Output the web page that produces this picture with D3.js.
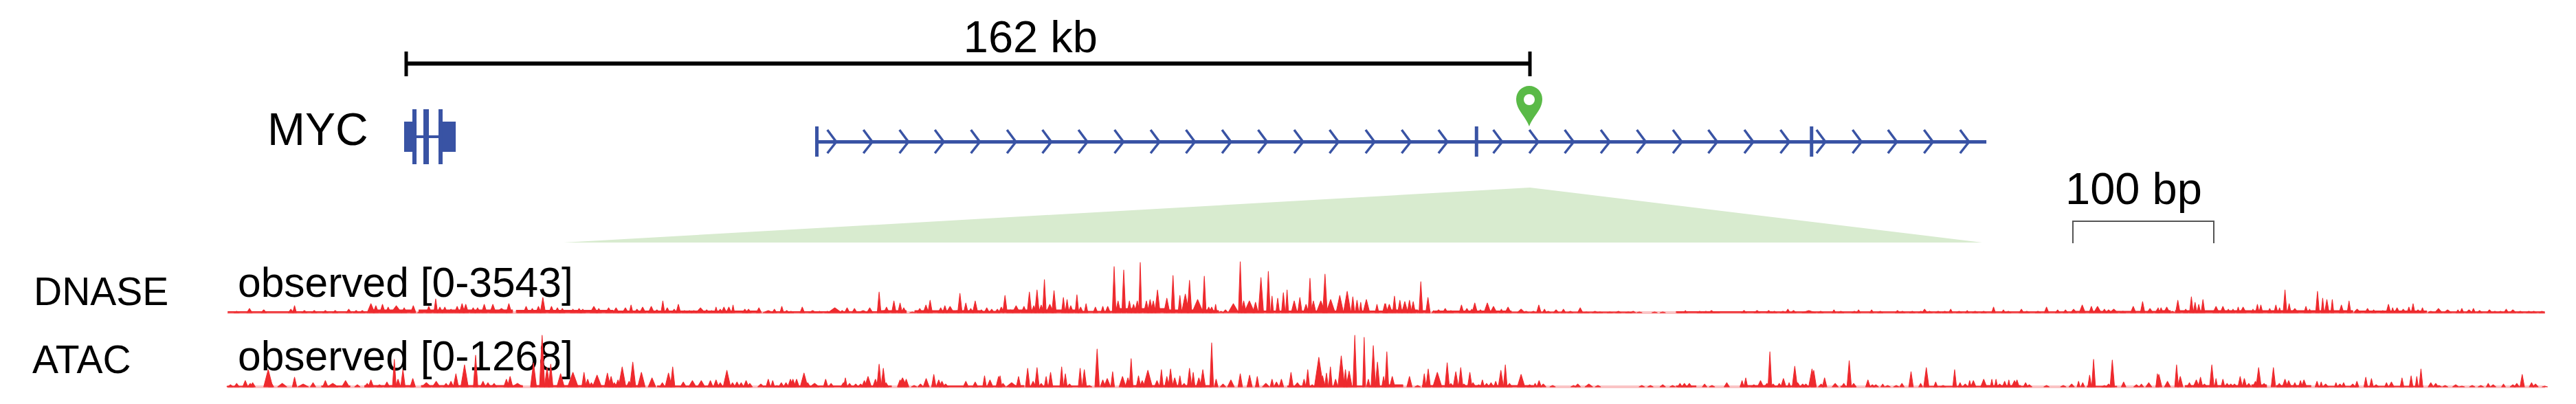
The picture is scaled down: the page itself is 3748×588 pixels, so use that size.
<!DOCTYPE html>
<html>
<head>
<meta charset="utf-8">
<script src="https://cdn.jsdelivr.net/npm/d3@7"></script>
<style>
  html, body { margin: 0; padding: 0; background: #fff; }
  text { font-family: "Liberation Sans", Arial, sans-serif; fill: #000; }
</style>
</head>
<body>
<div id="figure"></div>
<script type="text/javascript">
// gene model, positions in kb from the MYC start
var rulerKb = [0, 162];
var rulerLabel = "162 kb";
var geneName = "MYC";
var mycLine = [0.9, 4.7];
var mycThick = [[-0.3, 1.49], [4.66, 7.14]];
var mycTall = [[0.89, 1.49], [2.48, 3.27], [4.66, 5.25]];
var targetLine = [59.2, 227.8];
var targetTicks = [59.2, 154.3, 202.6];
var chevrons = [62.0, 67.2, 72.4, 77.5, 82.7, 87.9, 93.0, 98.2, 103.4, 108.6, 113.7, 118.9, 124.1, 129.3, 134.4, 139.6, 144.8, 150.1,
  158.0, 163.2, 168.3, 173.5, 178.7, 183.9, 189.0, 194.2, 199.4,
  204.6, 209.8, 214.9, 220.1, 225.3];
var zoomWedge = [[22.7, 0], [162, 1], [227.2, 0]];
var scaleBarBp = [0, 100];
var scaleBarLabel = "100 bp";

var trackNames = ["DNASE", "ATAC"];
var trackRanges = ["observed [0-3543]", "observed [0-1268]"];

// tracks were read in six windows of 1568 units; each peak is [pos, height, halfwidth]
var dnase1 = [[40,2],[92,6],[150,4],[260,5],[275,10,5],[315,3],[355,3],[400,3],[440,3],[495,5],[525,3],[550,3],[585,13,10],[605,10],[632,12],[655,8],[688,10,14],[720,7],[757,10],[785,2],[820,9],[848,20,5],[865,8],[885,8],[910,5],[935,9],[955,13],[970,12],[1000,7],[1018,7],[1045,12],[1080,12,8],[1115,6,15],[1145,13],[1190,3],[1215,9],[1240,6],[1265,9],[1283,22],[1318,9],[1342,7],[1362,6],[1405,5],[1430,6],[1445,5],[1490,9,10],[1510,6],[1550,7,8]];
var dnase2 = [[12,7,8],[30,2],[50,7,8],[73,11,5],[97,5,8],[120,8,8],[155,9,8],[178,4,8],[202,17,5],[220,7],[248,5],[265,12,6],[290,3],[310,3],[328,3],[355,7,12],[380,4],[400,3],[418,8,4],[435,5],[450,8],[470,8],[487,11,4],[535,5],[550,5],[592,7,7],[630,3,14],[655,5,6],[685,9,5],[705,3],[722,2],[768,8,6],[810,3,10],[838,2],[870,2],[900,7,18],[930,3],[950,7,7],[980,6],[1015,3,14],[1042,7,8],[1080,30,5],[1100,3],[1110,8],[1140,17,6],[1165,14,6],[1180,7],[1215,1],[1245,6],[1270,11],[1287,18,6],[1330,7],[1347,10,6],[1368,9,10],[1395,3],[1408,28,6],[1432,14,6],[1452,6],[1470,17,7],[1495,4],[1517,7,7],[1537,5],[1560,5]];
var dnase3 = [[8,8],[23,25,6],[45,4],[68,10,10],[100,9],[122,30,6],[140,10],[153,33,6],[170,11],[183,48,5],[205,12,10],[222,32,6],[260,22,5],[275,19,5],[290,10],[315,26,5],[330,8],[352,13,5],[390,8,6],[420,9,5],[440,9],[466,67,5],[482,17],[505,62,5],[528,17,6],[545,12],[572,73,4],[560,17],[597,17],[612,19],[625,17],[642,33,7],[680,21,8],[705,54,5],[733,25,5],[755,27,10],[772,47,6],[805,19,15],[832,53,5],[850,8],[862,8],[878,12,4],[900,2],[918,4],[950,13,14],[978,74,5],[992,17],[1015,17,14],[1040,15,7],[1062,51,7],[1092,60,5],[1107,24,4],[1130,21,5],[1153,29,5],[1168,33,4],[1197,17,8],[1220,22,6],[1245,12],[1261,50,5],[1275,17],[1305,17,12],[1322,56,6],[1345,19,12],[1382,25,10],[1412,31,10],[1435,23,5],[1452,18,5],[1467,15,4],[1490,19,9],[1533,12,5],[1565,13,6]];
var dnase4 = [[0,13,5],[15,12,8],[36,24,5],[58,18,6],[78,16,8],[97,18,6],[112,16,6],[143,45,5],[172,22,6],[195,3,5],[215,4,8],[242,6,7],[265,3],[308,11,6],[330,6,7],[362,14,7],[350,5],[385,4],[413,14,9],[438,9,9],[470,5,5],[497,8,8],[550,5,10],[570,2],[600,2],[622,11,6],[645,5,5],[660,2],[692,4,7],[722,5,6],[750,2],[790,7,7],[815,1],[850,2],[870,1],[910,1],[945,2],[985,1],[1005,2],[1030,1],[1092,1],[1125,1],[1195,1],[1217,3,5],[1275,2],[1300,2],[1323,3],[1345,1],[1455,3,7],[1508,3,8],[1555,3,6]];
var dnase5 = [[10,2],[45,2],[65,5,6],[88,3],[150,3,18],[198,2],[252,4,5],[280,2,8],[335,2],[352,4,5],[405,4,5],[440,2],[510,3,6],[530,2],[570,2],[620,5,7],[605,2],[640,2],[675,2],[702,2],[726,5,5],[760,2],[793,3,5],[825,2],[860,2],[900,8,5],[940,4,5],[960,2],[1013,5,6],[1035,2],[1080,2],[1115,8,6],[1160,4,6],[1192,4,6],[1225,5,8],[1260,11,8],[1297,9,6],[1322,9,10],[1350,5,6],[1367,4],[1388,5,10],[1425,2],[1467,9,7],[1505,16,6],[1535,6,8],[1565,5,6]];
var dnase6 = [[0,7,4],[12,7,5],[35,8,8],[58,2],[80,18,6],[112,5,6],[135,23,5],[150,15,5],[165,12,5],[182,19,5],[235,9,8],[263,9,7],[285,5,5],[304,5,5],[325,8,4],[345,8,8],[385,5,4],[403,12,5],[417,11,5],[453,6,5],[478,11,5],[493,7,4],[515,33,5],[532,13,5],[555,6,9],[600,9,5],[615,5,4],[647,31,5],[668,21,4],[685,19,6],[707,19,4],[744,11,6],[775,17,5],[808,5,9],[850,6,7],[875,4,6],[912,3,6],[935,12,6],[952,7,4],[970,7,7],[995,5,8],[1018,8,5],[1035,13,5],[1055,4],[1073,7,5],[1107,2,8],[1138,6,10],[1175,4,10],[1217,4,5],[1233,6,5],[1262,4,8],[1280,6,5],[1305,3],[1345,4,7],[1367,2],[1390,2],[1413,5,6],[1440,4,8],[1470,2],[1505,2],[1525,2],[1558,2]];

var atac1 = [[15,3],[40,5],[75,9],[105,6],[95,5],[168,25,12],[180,6],[225,5,12],[275,14,6],[310,4,14],[350,6],[400,9],[430,5,14],[482,9,10],[530,3],[585,10],[570,5],[620,3],[650,7],[680,40,5],[715,25,6],[695,11],[755,12],[810,6,12],[850,8,10],[890,5],[910,8],[930,19],[965,32,10],[1010,46,6],[1040,8],[1060,6],[1085,5],[1135,11],[1150,15],[1180,5,14],[1245,35,8],[1280,75,7],[1300,28],[1315,33,6],[1355,19,10],[1405,21,14],[1450,21,6],[1465,11],[1503,17,12],[1480,6],[1545,20,8],[1560,15]];
var atac2 = [[5,6],[20,10],[37,29,10],[80,36,8],[65,8],[115,21,10],[158,13,10],[200,6],[225,20,9],[242,29,6],[285,7,8],[322,9,10],[358,9,10],[395,9,7],[418,10],[435,6],[462,24,10],[485,6],[503,7],[520,6],[540,9],[555,5],[600,4,8],[630,11,6],[648,9,5],[665,2],[683,6],[702,6],[720,11],[730,11],[745,11],[775,20,10],[790,6],[818,5,12],[863,11,6],[885,5],[935,6],[943,13,5],[960,5],[985,4],[1005,4],[1020,9],[1035,15,9],[1065,11],[1080,33,6],[1097,27,6],[1108,6],[1165,10],[1175,13,12],[1190,11],[1222,2],[1248,4],[1271,12,8],[1302,18,6],[1322,10],[1335,8],[1350,4],[1432,8],[1470,7],[1508,16,5],[1530,10,8],[1565,15]];
var atac3 = [[3,16,5],[15,5],[50,6,14],[78,15,6],[115,27,6],[137,8],[153,28,6],[170,5],[190,15,5],[208,21,6],[253,29,5],[268,19,5],[285,4],[328,27,5],[345,25,6],[365,2],[397,55,6],[420,10],[438,12,9],[460,22,5],[500,15,9],[522,13],[535,41,5],[565,16,6],[580,9],[603,24,12],[640,9],[658,25,5],[680,15,6],[695,26,6],[712,13],[733,16,5],[750,5],[772,27,6],[787,21,5],[810,13],[826,25,7],[862,64,5],[880,11,5],[908,4,7],[940,10,9],[978,19,6],[1016,17,7],[1047,15,5],[1082,5,9],[1107,11,5],[1125,7,7],[1145,11,6],[1184,21,6],[1210,6,9],[1237,11,5],[1252,25,5],[1270,3],[1297,43,12],[1312,16],[1328,20,5],[1344,29,5],[1365,11,6],[1388,45,9],[1405,25,5],[1420,23,8],[1443,75,5],[1481,72,4],[1498,11,5],[1518,60,6],[1535,36,6],[1560,15,5]];
var atac4 = [[5,51,5],[27,15,7],[97,15,7],[130,2],[157,19,5],[173,26,6],[210,21,12],[250,35,6],[265,5],[285,22,7],[305,28,6],[318,4],[342,21,6],[355,6,7],[378,3],[393,10,5],[410,5],[428,6,7],[447,8,5],[468,24,7],[486,32,5],[503,5],[550,18,10],[585,3],[607,5,5],[623,9,6],[640,4],[678,2],[763,2],[780,4],[825,4,10],[862,2],[1040,2],[1075,2],[1125,3],[1165,2],[1195,5,6],[1213,5],[1233,5],[1295,4,6],[1325,2],[1385,6,7],[1447,9,5],[1462,13,5],[1495,3],[1522,9,8],[1548,5],[1560,51,5]];
var atac5 = [[5,4],[30,5,6],[47,12,7],[70,6,4],[93,30,7],[105,6],[125,4],[138,4],[163,26,9],[170,24],[200,4],[214,13,6],[257,5,8],[292,5,6],[314,38,6],[332,5],[390,10,6],[408,3],[422,3],[450,4,5],[470,2],[505,2],[528,5,6],[565,22,6],[604,5,5],[627,28,7],[665,7,5],[695,2],[742,25,5],[764,6,5],[785,4],[803,9,4],[818,9,7],[860,11,8],[893,11,4],[910,11,4],[925,4],[945,8,6],[962,10,4],[985,9,8],[995,10,6],[1030,6,6],[1045,3],[1115,2],[1183,2],[1217,4,7],[1245,8,4],[1262,6,5],[1290,17,5],[1306,40,5],[1350,2],[1367,4],[1382,39,6],[1428,7,6],[1480,3],[1500,4,6],[1530,6,8],[1565,19,4]];
var atac6 = [[3,18,8],[38,8,8],[75,32,5],[90,15,7],[127,6,6],[155,10,8],[172,14,6],[188,4],[218,32,6],[235,12,4],[263,11,5],[280,5],[295,4],[310,4],[333,15,6],[350,12,6],[368,5],[408,28,7],[395,8],[430,5],[468,28,6],[492,5],[515,11,7],[530,9],[555,6,5],[578,9,5],[592,10,7],[645,8,5],[662,7,4],[680,4],[722,6,4],[738,4],[753,6,5],[790,4],[807,8,5],[843,14,5],[866,12,5],[885,3],[927,6,5],[947,7,7],[990,13,5],[1027,16,5],[1050,15,4],[1067,26,5],[1107,6,7],[1127,5],[1140,2],[1165,2],[1208,3,8],[1233,1],[1275,2],[1310,2],[1340,5,5],[1360,3],[1402,4,5],[1440,3],[1456,5],[1478,18,6],[1516,6,6],[1532,4],[1570,1]];

// low background stretches: [window, start, end, height]
var dnaseFloor = [[0,5,580,1.5],[0,580,762,4],[0,780,1160,4],[0,1175,1568,3.5],[1,0,595,2.5],[1,620,1075,1.5],[1,1075,1190,3],[1,1225,1490,3],[1,1490,1568,2],[2,30,320,4],[2,320,465,2],[2,465,680,6],[2,680,860,4],[2,860,890,3],[2,970,1568,2.5],[3,0,130,4],[3,130,180,3],[3,200,510,2.5],[3,510,1000,1],[3,1180,1568,1.5],[4,0,1220,1.2],[4,1220,1568,2],[5,0,50,3],[5,70,790,3],[5,800,1090,2.5],[5,1100,1568,1.2]];
var atacFloor = [[0,1,110,1],[0,385,500,1.5],[0,560,760,2],[0,790,1200,2],[0,1235,1568,2],[1,0,110,2],[1,180,560,1.5],[1,610,1130,1.5],[1,1345,1568,1.5],[2,40,100,2],[2,110,360,1.5],[2,500,860,2],[2,1170,1480,1.5],[2,1500,1568,1.5],[3,0,70,3],[3,150,600,2],[3,1180,1260,1.5],[3,1440,1568,2],[4,0,150,1.5],[4,280,340,1],[4,620,1030,1],[4,850,1010,2],[4,1280,1400,1],[5,110,370,2],[5,380,440,3],[5,480,620,2],[5,650,810,1],[5,840,1075,1]];

var dnaseWindows = [dnase1, dnase2, dnase3, dnase4, dnase5, dnase6];
var atacWindows = [atac1, atac2, atac3, atac4, atac5, atac6];

var blue = "#3953a4", red = "#ee2a2e", pink = "#fac4c5", green = "#5aba47", paleGreen = "#d8ebcf";

var svgSel = d3.select("#figure").append("svg")
  .attr("width", 3748)
  .attr("height", 588)
  .style("display", "block");

var xKb = d3.scaleLinear().domain(rulerKb).range([591, 2226]);
var xBar = d3.scaleLinear().domain(scaleBarBp).range([3016, 3221]);
var winUnits = 1568;
var xTrack = d3.scaleLinear().domain([0, winUnits * 6]).range([330, 3702]);

function addLabel(txt, x, y, size, anchor) {
  return svgSel.append("text")
    .attr("x", x).attr("y", y)
    .attr("font-size", size)
    .attr("text-anchor", anchor || "start")
    .text(txt);
}

function vLine(x, y1, y2, color, w) {
  svgSel.append("line")
    .attr("x1", x).attr("x2", x)
    .attr("y1", y1).attr("y2", y2)
    .attr("stroke", color).attr("stroke-width", w);
}

function hLine(x1, x2, y, color, w) {
  svgSel.append("line")
    .attr("x1", x1).attr("x2", x2)
    .attr("y1", y).attr("y2", y)
    .attr("stroke", color).attr("stroke-width", w);
}

// ruler
hLine(xKb(rulerKb[0]), xKb(rulerKb[1]), 92.5, "#000", 6);
rulerKb.forEach(function(d) { vLine(xKb(d), 75, 111, "#000", 5); });
addLabel(rulerLabel, xKb(90), 76, 65, "middle");

// MYC gene
addLabel(geneName, 389, 211, 66);
hLine(xKb(mycLine[0]), xKb(mycLine[1]), 199, blue, 4);
svgSel.selectAll("rect.thick")
  .data(mycThick)
  .enter()
  .append("rect")
  .attr("class", "thick")
  .attr("x", function(d) { return xKb(d[0]); })
  .attr("width", function(d) { return xKb(d[1]) - xKb(d[0]); })
  .attr("y", 177).attr("height", 44)
  .attr("fill", blue);
svgSel.selectAll("rect.tall")
  .data(mycTall)
  .enter()
  .append("rect")
  .attr("class", "tall")
  .attr("x", function(d) { return xKb(d[0]); })
  .attr("width", function(d) { return xKb(d[1]) - xKb(d[0]); })
  .attr("y", 159).attr("height", 80)
  .attr("fill", blue);

// second gene with strand chevrons
hLine(xKb(targetLine[0]), xKb(targetLine[1]), 206.5, blue, 5);
targetTicks.forEach(function(d) { vLine(xKb(d), 184, 228, blue, 5); });
var chevronLine = d3.line();
svgSel.selectAll("path.chevron")
  .data(chevrons)
  .enter()
  .append("path")
  .attr("class", "chevron")
  .attr("d", function(d) {
    var x = xKb(d);
    return chevronLine([[x - 13, 189], [x, 206.5], [x - 13, 223]]);
  })
  .attr("fill", "none")
  .attr("stroke", blue)
  .attr("stroke-width", 3.5);

// location pin
var pinX = xKb(rulerKb[1]) - 1;
svgSel.append("path")
  .attr("d", "M" + pinX + ",184 C" + (pinX - 6) + ",168 " + (pinX - 19) + ",160 " + (pinX - 19) + ",144 A19,19 0 1 1 " + (pinX + 19) + ",144 C" + (pinX + 19) + ",160 " + (pinX + 6) + ",168 " + pinX + ",184 Z")
  .attr("fill", green);
svgSel.append("ellipse")
  .attr("cx", pinX).attr("cy", 145)
  .attr("rx", 8).attr("ry", 8)
  .attr("fill", "#fff");

// zoom wedge
var wedgeY = d3.scaleLinear().domain([0, 1]).range([353, 273]);
svgSel.append("path")
  .attr("d", d3.line()
    .x(function(d) { return xKb(d[0]); })
    .y(function(d) { return wedgeY(d[1]); })(zoomWedge) + "Z")
  .attr("fill", paleGreen);

// 100 bp bracket
addLabel(scaleBarLabel, 3005, 297, 65);
svgSel.append("path")
  .attr("d", d3.line()([[xBar(0), 354], [xBar(0), 322], [xBar(100), 322], [xBar(100), 354]]))
  .attr("fill", "none")
  .attr("stroke", "#555")
  .attr("stroke-width", 2);

// track labels sit under the signal
addLabel(trackNames[0], 49, 444, 57);
addLabel(trackNames[1], 47, 543, 57);
addLabel(trackRanges[0], 346, 432, 60.5);
addLabel(trackRanges[1], 346, 539, 60.5);

// signal tracks
function drawTrack(windows, floors, base) {
  var y = d3.scaleLinear().domain([0, 76]).range([base, base - 76]);
  var area = d3.area()
    .x(function(d) { return d[0]; })
    .y0(base)
    .y1(function(d) { return y(d[1]); });

  hLine(xTrack(0) + 1, xTrack(winUnits * 6) + 1, base, pink, 4);

  var g = svgSel.append("g")
    .attr("fill", red)
    .attr("stroke", red)
    .attr("stroke-width", 1.1)
    .attr("stroke-linejoin", "round");

  g.selectAll("path.floor")
    .data(floors)
    .enter()
    .append("path")
    .attr("class", "floor")
    .attr("d", function(d) {
      var off = d[0] * winUnits;
      return area([[xTrack(off + d[1]), d[3]], [xTrack(off + d[2]), d[3]]]);
    });

  windows.forEach(function(peaks, i) {
    g.selectAll("path.w" + i)
      .data(peaks)
      .enter()
      .append("path")
      .attr("class", "w" + i)
      .attr("d", function(d) {
        var c = i * winUnits + d[0];
        var hw = (d[2] || 7) * 1.5;
        return area([[xTrack(c - hw), 0], [xTrack(c), d[1]], [xTrack(c + hw), 0]]);
      });
  });
}

drawTrack(dnaseWindows, dnaseFloor, 455);
drawTrack(atacWindows, atacFloor, 563);
</script>
</body>
</html>
